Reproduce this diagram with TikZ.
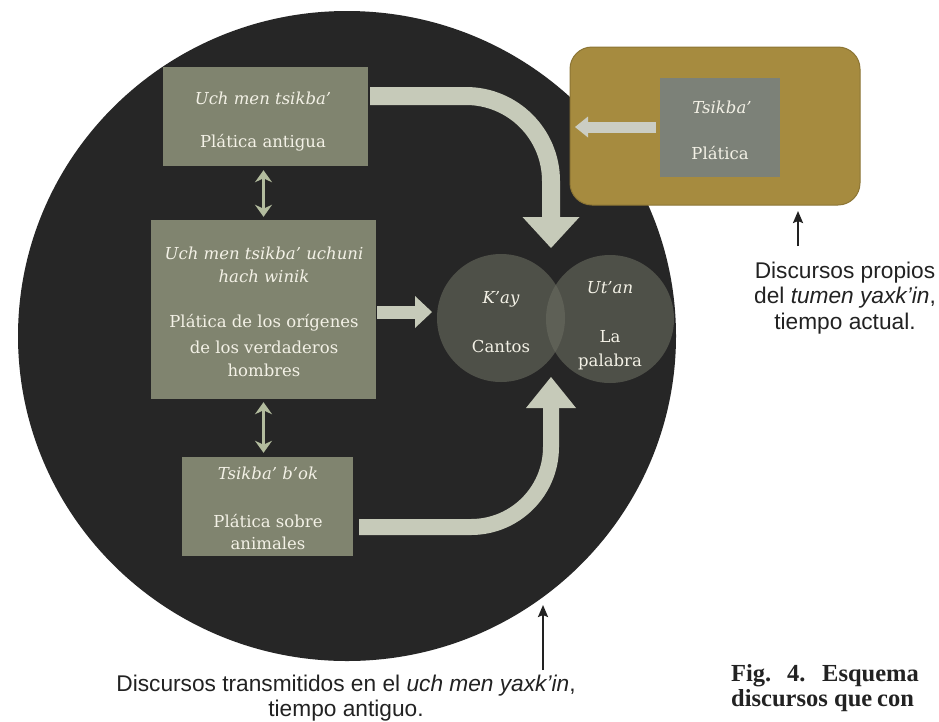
\documentclass[tikz,border=0pt]{standalone}
\usepackage{fontspec}
\newfontfamily\labfont{Liberation Sans}
\newfontfamily\boxfont{DejaVu Serif}
\newfontfamily\capfont{Liberation Serif}
\usetikzlibrary{arrows.meta,calc}

\definecolor{disc}{HTML}{262626}
\definecolor{boxgreen}{HTML}{80846F}
\definecolor{boxtext}{HTML}{F3F1E6}
\definecolor{flow}{HTML}{C6CAB9}
\definecolor{linkc}{HTML}{B3BC9E}
\definecolor{song}{HTML}{6A6C60}
\definecolor{gold}{HTML}{A68B3F}
\definecolor{golddark}{HTML}{8C7534}
\definecolor{talk}{HTML}{7C8178}
\definecolor{goldflow}{HTML}{CBCDC3}
\definecolor{ink}{HTML}{222222}

\begin{document}
\begin{tikzpicture}[x=1pt,y=-1pt,
  panel/.style={fill=boxgreen, inner sep=0pt, draw=none},
  btxt/.style={text=boxtext, inner sep=0pt, font=\boxfont\fontsize{16.5}{20}\selectfont},
  bit/.style={btxt, font=\boxfont\fontsize{16.5}{20}\selectfont\itshape},
  orb/.style={circle, fill=song, fill opacity=0.6, minimum size=128pt, inner sep=0pt},
  shaft/.style={draw=flow, line cap=butt},
  head/.style={fill=flow},
  linkarrow/.style={draw=linkc, line width=3pt, {Stealth[length=12pt,width=17pt]}-{Stealth[length=12pt,width=17pt]}},
  pointer/.style={draw=ink, line width=2.2pt, -{Stealth[length=12pt,width=10pt,inset=2pt]}},
  lab/.style={text=ink, align=center, inner sep=0pt, font=\labfont\fontsize{22.7}{25.5}\selectfont},
  figcap/.style={text=ink, inner sep=0pt, anchor=base west, font=\capfont\bfseries\fontsize{24.5}{25}\selectfont}
]
% page
\useasboundingbox (0,0) rectangle (939,721);
\clip (0,0) rectangle (939,721);
\fill[white] (0,0) rectangle (939,721);

% dark disc of the old time
\fill[disc] (347,336) ellipse [x radius=329, y radius=325];

% three kinds of old talk
\node[panel, minimum width=205pt, minimum height=99pt] (box1) at (265.5,116.5) {};
\node[panel, minimum width=225pt, minimum height=179pt] (box2) at (263.5,309.5) {};
\node[panel, minimum width=171pt, minimum height=99pt] (box3) at (267.5,506.5) {};

\node[bit]  (b1a) at (263,98)  {Uch men tsikba’};
\node[btxt] (b1b) at (263,143) {Plática antigua};

\node[bit]  (b2a) at (264,253) {Uch men tsikba’ uchuni};
\node[bit]  (b2b) at (264,276) {hach winik};
\node[btxt] (b2c) at (264,323) {Plática de los orígenes};
\node[btxt] (b2d) at (264,347) {de los verdaderos};
\node[btxt] (b2e) at (264,370) {hombres};

\node[bit]  (b3a) at (268,473) {Tsikba’ b’ok};
\node[btxt] (b3b) at (268,521) {Plática sobre};
\node[btxt] (b3c) at (268,543) {animales};

% songs and the word
\node[orb] (circL) at (501,318) {};
\node[orb] (circR) at (610,319) {};
\node[bit]  (kay)  at (501,299) {K’ay};
\node[btxt] (can)  at (501,346) {Cantos};
\node[bit]  (utan) at (610,288) {Ut’an};
\node[btxt] (la)   at (610,337) {La};
\node[btxt] (pal)  at (610,362) {palabra};

% links between the old talks
\draw[linkarrow, shorten <=4pt, shorten >=3pt] (box2.north |- box1.south) -- (box2.north);
\draw[linkarrow, shorten <=3pt, shorten >=4pt] (box2.south) -- (box2.south |- box3.north);

% flows into the songs and the word
\coordinate (topTip) at (551,248);
\coordinate (botTip) at (551,377);
\coordinate (sideTip) at (432,312);
\draw[shaft, line width=18pt, rounded corners=85pt, shorten >=30pt]
  ([xshift=2pt,yshift=20.5pt]box1.east) -| (topTip);
\fill[head] (topTip) -- ++(-28.5,-31) -- ++(57,0) -- cycle;

\draw[shaft, line width=16pt, rounded corners=80pt, shorten >=30pt]
  ([xshift=6pt,yshift=-20.5pt]box3.east) -| (botTip);
\fill[head] (botTip) -- ++(-25,31) -- ++(50,0) -- cycle;

\draw[shaft, line width=13pt, shorten >=16pt]
  ([xshift=1pt,yshift=-2.5pt]box2.east) -- (sideTip);
\fill[head] (sideTip) -- ++(-17,-16) -- ++(0,32) -- cycle;

% present-day talk
\node[fill=gold, draw=golddark, line width=1pt, rounded corners=22pt,
      minimum width=290pt, minimum height=158pt, inner sep=0pt] (gold) at (715,126) {};
\node[fill=talk, inner sep=0pt, minimum width=120pt, minimum height=99pt] (inner) at (720,127.5) {};
\node[bit]  (tsk) at (722,107) {Tsikba’};
\node[btxt] (pla) at (720,153) {Plática};
\coordinate (goldTip) at (575,127);
\draw[draw=goldflow, line width=11pt, line cap=butt, shorten >=13pt]
  ([xshift=-4pt,yshift=0.5pt]inner.west) -- (goldTip);
\fill[goldflow] (goldTip) -- ++(13,-10.5) -- ++(0,21) -- cycle;

% captions
\node[lab] (labNow) at (845,298) {Discursos propios\\del \textit{tumen yaxk’in},\\tiempo actual.};
\coordinate (nowFrom) at (798,246);
\coordinate (nowTo) at (798,211);
\draw[pointer] (nowFrom) -- (nowTo);

\node[lab] (labOld) at (346,698) {Discursos transmitidos en el \textit{uch men yaxk’in},\\tiempo antiguo.};
\coordinate (oldFrom) at (543,670);
\coordinate (oldTo) at (543,605);
\draw[pointer] (oldFrom) -- (oldTo);

% figure caption, running past the right edge
\node[figcap] (f1) at (731,681) {Fig.};
\node[figcap] (f2) at (787,681) {4.};
\node[figcap] (f3) at (822,681) {Esquema};
\node[figcap] (f4) at (731,706) {discursos};
\node[figcap] (f5) at (834,706) {que};
\node[figcap] (f6) at (877,706) {con};
\end{tikzpicture}
\end{document}
